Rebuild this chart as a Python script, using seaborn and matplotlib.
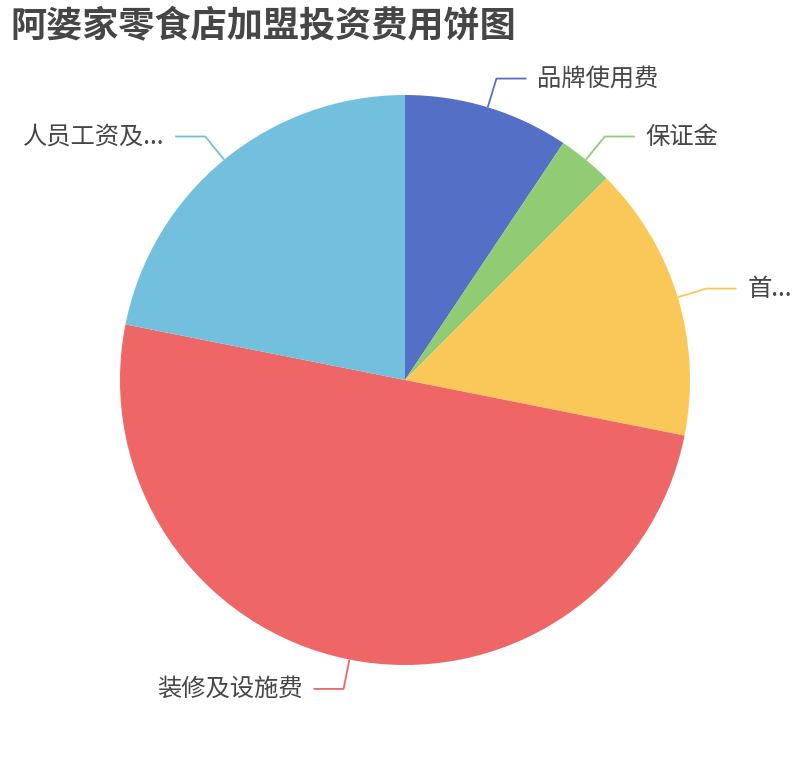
import numpy as np
import matplotlib
matplotlib.use("Agg")
import matplotlib.pyplot as plt
import seaborn as sns

# data (万元)
labels = ["品牌使用费", "保证金", "首...", "装修及设施费", "人员工资及..."]
values = [3, 1, 5, 16, 7]
colors = ["#5470c6", "#91cc75", "#fac858", "#ee6666", "#73c0de"]

sns.set_theme(style="white")
plt.rcParams['font.family'] = ['Noto Sans CJK SC', 'DejaVu Sans']

fig = plt.figure(figsize=(8.1, 7.6), dpi=100)
ax = fig.add_axes([0, 0, 1, 1])

r = 285
wedges, _ = ax.pie(values, colors=colors, radius=r, startangle=90,
                   counterclock=False, center=(0, 0),
                   wedgeprops=dict(linewidth=0))
ax.set_xlim(-405, 405)
ax.set_ylim(-380, 380)
ax.set_aspect("equal")
ax.axis("off")

# leader lines + labels
len1, len2, gap = 30, 30, 11
for w, lab, c in zip(wedges, labels, colors):
    mid = np.deg2rad((w.theta1 + w.theta2) / 2)
    x0, y0 = r * np.cos(mid), r * np.sin(mid)
    x1, y1 = (r + len1) * np.cos(mid), (r + len1) * np.sin(mid)
    side = 1 if x1 >= 0 else -1
    x2 = x1 + side * len2
    ax.plot([x0, x1, x2], [y0, y1, y1], color=c, lw=1.3, solid_capstyle="butt")
    ax.text(x2 + side * gap, y1, lab, fontsize=17.5, color="#464646",
            ha="left" if side > 0 else "right", va="center")

fig.text(10 / 810, 1 - 27 / 760, "阿婆家零食店加盟投资费用饼图", fontsize=26,
         fontweight="bold", color="#464646", ha="left", va="center")

fig.savefig("out.png", dpi=100)
